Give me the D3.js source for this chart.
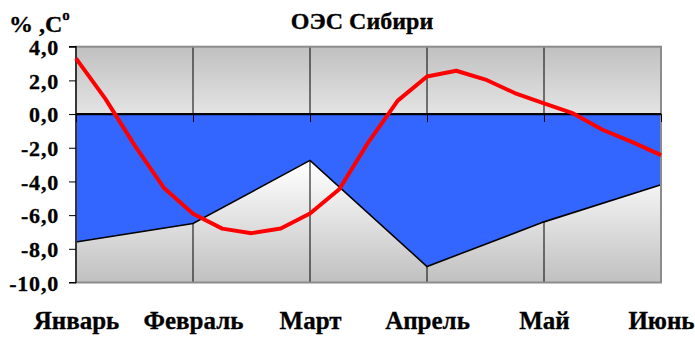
<!DOCTYPE html>
<html>
<head>
<meta charset="utf-8">
<script src="https://cdn.jsdelivr.net/npm/d3@7"></script>
</head>
<body style="margin:0">
<svg id="chart" width="695" height="338"></svg>
<script>
// ---- data ----
const months = ["Январь", "Февраль", "Март", "Апрель", "Май", "Июнь"];
const consumption = [-7.6, -6.5, -2.75, -9.05, -6.4, -4.2];       // blue area, %
const temperature = [3.31, 0.92, -1.84, -4.37, -5.92, -6.8, -7.07, -6.79, -5.9, -4.46, -1.66,
                     0.8, 2.23, 2.57, 2.05, 1.25, 0.64, 0.04, -0.93, -1.65, -2.44]; // red line, °C
const yTicks = [4, 2, 0, -2, -4, -6, -8, -10];
const title = "ОЭС Сибири";
const yLabel = "% ,C";

const FONT = "Liberation Serif";
function styleText(sel, size) {
  return sel.attr("font-family", null).style("font-family", FONT)
    .style("font-weight", "bold").style("font-size", size + "px").style("fill", "#000")
    .style("stroke", "#000").style("stroke-width", "0.3px");
}

// ---- layout ----
const svg = d3.select("#chart");
const pLeft = 76, pRight = 661, pTop = 46.7, pBottom = 282.5;

const x = d3.scalePoint().domain(months).range([pLeft, pRight]);
const xr = d3.scaleLinear().domain([0, temperature.length - 1]).range([pLeft, pRight]);
const y = d3.scaleLinear().domain([-10, 4]).range([pBottom, pTop]);

// background gradient
const defs = svg.append("defs");
const grad = defs.append("linearGradient").attr("id", "bg").attr("x1", 0).attr("y1", 0).attr("x2", 0).attr("y2", 1);
grad.append("stop").attr("offset", "0%").attr("stop-color", "#c0c0c0");
grad.append("stop").attr("offset", "50%").attr("stop-color", "#ffffff");
grad.append("stop").attr("offset", "100%").attr("stop-color", "#c0c0c0");

svg.append("rect")
  .attr("x", pLeft).attr("y", y(4)).attr("width", pRight - pLeft).attr("height", y(-10) - y(4))
  .attr("fill", "url(#bg)");

// vertical gridlines
svg.append("g").selectAll("line").data(months).join("line")
  .attr("x1", d => x(d)).attr("x2", d => x(d))
  .attr("y1", y(4)).attr("y2", y(-10))
  .attr("stroke", "#000").attr("stroke-width", 1);

// area
const idx = months.map((m, i) => i);
svg.append("path")
  .datum(idx)
  .attr("fill", "#3366ff")
  .attr("d", d3.area().x(i => x(months[i])).y0(y(0)).y1(i => y(consumption[i])));
svg.append("path")
  .datum(idx)
  .attr("fill", "none").attr("stroke", "#000").attr("stroke-width", 1.6)
  .attr("d", d3.line().x(i => x(months[i])).y(i => y(consumption[i])));

// plot border
svg.append("rect")
  .attr("x", pLeft).attr("y", y(4)).attr("width", pRight - pLeft).attr("height", y(-10) - y(4))
  .attr("fill", "none").attr("stroke", "#8c8c8c").attr("stroke-width", 2);

// x axis at zero
const xAxis = svg.append("g").attr("transform", `translate(0,${y(0)})`)
  .call(d3.axisBottom(x).tickSize(8).tickFormat(""));
xAxis.attr("font-family", null);
xAxis.select(".domain").attr("stroke", "#000").attr("stroke-width", 2.2).attr("d", `M${pLeft},0H${pRight}`);
xAxis.selectAll(".tick line").attr("stroke", "#000").attr("stroke-width", 1);

// y axis
const fmt = v => d3.format(".1f")(v).replace(".", ",").replace("−", "-");
const yAxis = svg.append("g").attr("transform", `translate(${pLeft},0)`)
  .call(d3.axisLeft(y).tickValues(yTicks).tickSize(7).tickPadding(10).tickFormat(fmt));
yAxis.attr("font-family", null).attr("font-size", null);
yAxis.select(".domain").attr("stroke", "#000").attr("stroke-width", 1.2).attr("d", `M-7,${y(4)}H0V${y(-10)}H-7`);
yAxis.selectAll(".tick line").attr("stroke", "#000");
styleText(yAxis.selectAll("text"), 22).style("letter-spacing", "0.8px").attr("dy", "0.35em");

// category labels
const labAxis = svg.append("g").attr("transform", `translate(0,${pBottom})`)
  .call(d3.axisBottom(x).tickSize(0).tickPadding(0));
labAxis.attr("font-family", null).attr("font-size", null);
labAxis.select(".domain").remove();
styleText(labAxis.selectAll("text"), 25).attr("dy", null).attr("y", 329 - pBottom);

// temperature line
svg.append("path")
  .datum(temperature)
  .attr("fill", "none").attr("stroke", "#ff0000").attr("stroke-width", 4).attr("stroke-linejoin", "round")
  .attr("d", d3.line().x((d, i) => xr(i)).y(d => y(d)));

// title
styleText(svg.append("text").attr("x", 362).attr("y", 28.5).attr("text-anchor", "middle"), 24).text(title);

// y label
const yl = styleText(svg.append("text").attr("x", 9).attr("y", 31.5), 24).text(yLabel);
yl.append("tspan").attr("dy", -12).style("font-size", "15px").text("o");
</script>
</body>
</html>
